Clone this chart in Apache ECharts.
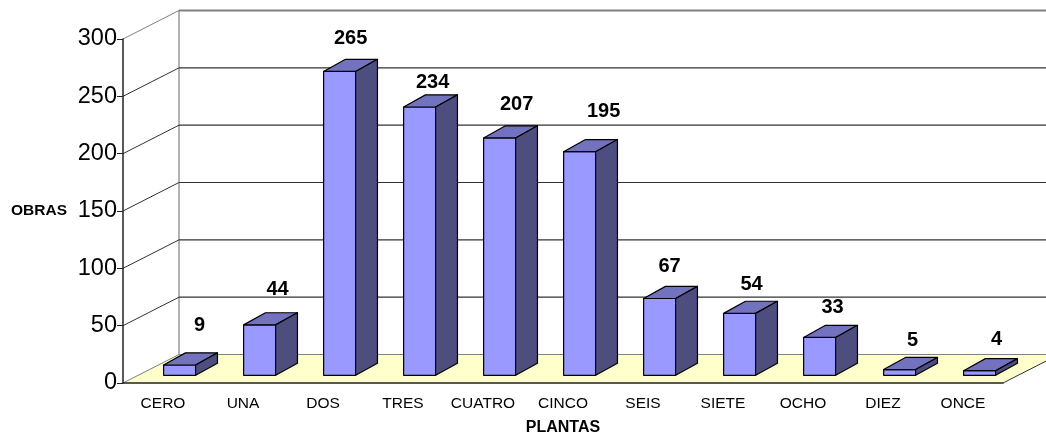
<!DOCTYPE html>
<html>
<head>
<meta charset="utf-8">
<style>
html, body { margin: 0; padding: 0; background: #fff; }
#chart { width: 1046px; height: 436px; }
</style>
<script src="https://cdn.jsdelivr.net/npm/echarts@6/dist/echarts.min.js"></script>
</head>
<body>
<div id="chart"></div>
<script>
const categories = ["CERO", "UNA", "DOS", "TRES", "CUATRO", "CINCO", "SEIS", "SIETE", "OCHO", "DIEZ", "ONCE"];
const obras = [9, 44, 265, 234, 207, 195, 67, 54, 33, 5, 4];
const valueTicks = [0, 50, 100, 150, 200, 250, 300];

// where each value label was placed by hand in the original: [right of bar centre, above bar top]
const labelShiftX = [20, 18, 11, 13, 17, 24, 10, 12, 13, 13, 17];
const labelShiftY = [40, 35, 33, 25, 33, 40, 32, 29, 30, 29, 31];

const fontName = "'Liberation Sans', Arial, sans-serif";
const wallDx = 56;
const wallDy = 28.5;
const barFront = 0.27;
const barDepth = 0.39;

let line = (x1, y1, x2, y2, color, width) => ({
    type: "line",
    shape: { x1, y1, x2, y2 },
    style: { stroke: color, lineWidth: width }
});

let poly = (points, fill) => ({
    type: "polygon",
    shape: { points },
    style: { fill, stroke: "#000", lineWidth: 1.2, lineJoin: "round" }
});

let renderWall = (params, api) => {
    const cs = params.coordSys;
    const v = valueTicks[params.dataIndex];
    const y = api.coord([0, v])[1];
    const x1 = cs.x;
    const x2 = cs.x + cs.width;
    const children = [];
    if (v === 0) {
        children.push({
            type: "polygon",
            shape: { points: [[x1, y], [x1 + wallDx, y - wallDy], [x2 + wallDx, y - wallDy], [x2, y]] },
            style: { fill: "#FFFFCC" }
        });
        children.push(line(x1 + wallDx, cs.y - wallDy, x1 + wallDx, y - wallDy, "#808080", 1.2));
        children.push(line(x2, y, x2 + wallDx, y - wallDy, "#333", 1));
    }
    const isEdge = v === 0 || v === 300;
    const color = isEdge ? "#808080" : "#333";
    children.push(line(x1, y, x1 + wallDx, y - wallDy, color, 1));
    children.push(line(x1 + wallDx, y - wallDy, x2 + wallDx, y - wallDy, color, v === 300 ? 2 : 1.2));
    return { type: "group", children };
};

let renderBar = (params, api) => {
    const i = params.dataIndex;
    const v = api.value(1);
    const base = api.coord([i, 0]);
    const top = api.coord([i, v]);
    const w = api.size([1, 0])[0] * 0.4;
    const sx = wallDx * barFront + 1.5;
    const sy = wallDy * barFront;
    const dx = wallDx * barDepth;
    const dy = wallDy * barDepth + 1;
    const left = base[0] + sx - w / 2;
    const right = left + w;
    const bottom = base[1] - sy;
    const upper = top[1] - sy;
    return {
        type: "group",
        children: [
            poly([[left, upper], [right, upper], [right, bottom], [left, bottom]], "#9999FF"),
            poly([[left, upper], [left + dx, upper - dy], [right + dx, upper - dy], [right, upper]], "#7272BF"),
            poly([[right, upper], [right + dx, upper - dy], [right + dx, bottom - dy], [right, bottom]], "#4D4D80"),
            {
                type: "text",
                style: {
                    text: String(v),
                    x: left + w / 2 + labelShiftX[i],
                    y: upper - labelShiftY[i],
                    align: "center",
                    verticalAlign: "middle",
                    fill: "#000",
                    font: "bold 20px " + fontName
                }
            }
        ]
    };
};

let option = {
    animation: false,
    backgroundColor: "#fff",
    textStyle: { fontFamily: fontName },
    grid: { left: 123, right: 43, top: 39, bottom: 53, outerBoundsMode: "none" },
    xAxis: {
        type: "category",
        data: categories,
        name: "PLANTAS",
        nameLocation: "middle",
        nameGap: 37,
        nameTextStyle: { color: "#000", fontSize: 16, fontWeight: "bold" },
        axisLine: { lineStyle: { color: "#222", width: 1.5 } },
        axisTick: { length: 6, lineStyle: { color: "#222" } },
        axisLabel: { color: "#000", fontSize: 15.5, margin: 13, interval: 0 }
    },
    yAxis: {
        type: "value",
        min: 0,
        max: 300,
        interval: 50,
        name: "OBRAS",
        nameLocation: "middle",
        nameRotate: 0,
        nameGap: 56,
        nameTextStyle: { color: "#000", fontSize: 15.5, fontWeight: "bold" },
        splitLine: { show: false },
        axisLine: { show: true, lineStyle: { color: "#222", width: 1.5 } },
        axisTick: { show: true, length: 6, lineStyle: { color: "#222" } },
        axisLabel: { color: "#000", fontSize: 23.5, margin: 6, padding: [2, 0, 0, 0] }
    },
    series: [
        {
            type: "custom",
            z: -1,
            silent: true,
            renderItem: renderWall,
            data: valueTicks
        },
        {
            type: "custom",
            z: 3,
            renderItem: renderBar,
            encode: { x: 0, y: 1 },
            data: obras.map((v, i) => [i, v])
        }
    ]
};

const chart = echarts.init(document.querySelector("#chart"), null, { renderer: "canvas" });
chart.setOption(option);
</script>
</body>
</html>
